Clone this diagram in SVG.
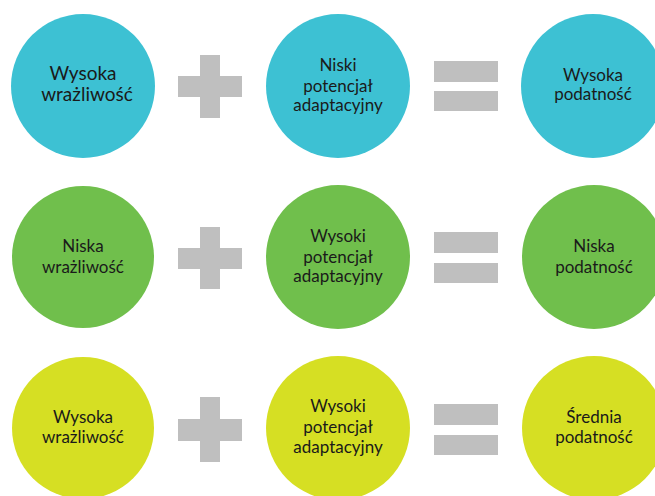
<svg xmlns="http://www.w3.org/2000/svg" width="655" height="496" viewBox="0 0 655 496">
<style>
.c1{fill:#3DC1D3}
.c2{fill:#70BF4C}
.c3{fill:#D6DF23}
.op{fill:#BFBFBF}
text{font-family:Lato,"Liberation Sans",sans-serif;font-size:17px;fill:#1A1A1A;text-anchor:middle}
.big{font-size:19px}
</style>
<rect width="655" height="496" fill="#FFFFFF"/>
<g id="connectors">
<g id="plus1" class="op"><rect x="200" y="55" width="20" height="63"/><rect x="178" y="76" width="64" height="21"/></g>
<g id="eq1" class="op"><rect x="434" y="61" width="64" height="21"/><rect x="434" y="91" width="64" height="20"/></g>
<g id="plus2" class="op"><rect x="200" y="227" width="20" height="62"/><rect x="178" y="248" width="64" height="21"/></g>
<g id="eq2" class="op"><rect x="434" y="232" width="64" height="21"/><rect x="434" y="263" width="64" height="20"/></g>
<g id="plus3" class="op"><rect x="200" y="397" width="20" height="65"/><rect x="178" y="419" width="64" height="22"/></g>
<g id="eq3" class="op"><rect x="434" y="404" width="64" height="21"/><rect x="434" y="435" width="64" height="20"/></g>
</g>
<g id="r1n1"><circle class="c1" cx="83" cy="86" r="72"/><text class="big" x="83" y="80">Wysoka</text><text class="big" x="87" y="101">wrażliwość</text></g>
<g id="r1n2"><circle class="c1" cx="338" cy="86" r="72"/><text x="338" y="71">Niski</text><text x="338" y="92">potencjał</text><text x="338" y="111">adaptacyjny</text></g>
<g id="r1n3"><circle class="c1" cx="593" cy="86" r="72"/><text x="593" y="81">Wysoka</text><text x="593" y="100">podatność</text></g>
<g id="r2n1"><circle class="c2" cx="83" cy="257" r="71"/><text x="83" y="252">Niska</text><text x="83" y="273">wrażliwość</text></g>
<g id="r2n2"><circle class="c2" cx="338" cy="257" r="72"/><text x="338" y="242">Wysoki</text><text x="338" y="263">potencjał</text><text x="338" y="282">adaptacyjny</text></g>
<g id="r2n3"><circle class="c2" cx="594" cy="257" r="72"/><text x="594" y="252">Niska</text><text x="594" y="273">podatność</text></g>
<g id="r3n1"><circle class="c3" cx="83" cy="428" r="71"/><text x="83" y="423">Wysoka</text><text x="83" y="443">wrażliwość</text></g>
<g id="r3n2"><circle class="c3" cx="338" cy="428" r="72"/><text x="338" y="412">Wysoki</text><text x="338" y="433">potencjał</text><text x="338" y="453">adaptacyjny</text></g>
<g id="r3n3"><circle class="c3" cx="594" cy="428" r="72"/><text x="594" y="423">Średnia</text><text x="594" y="443">podatność</text></g>
</svg>
